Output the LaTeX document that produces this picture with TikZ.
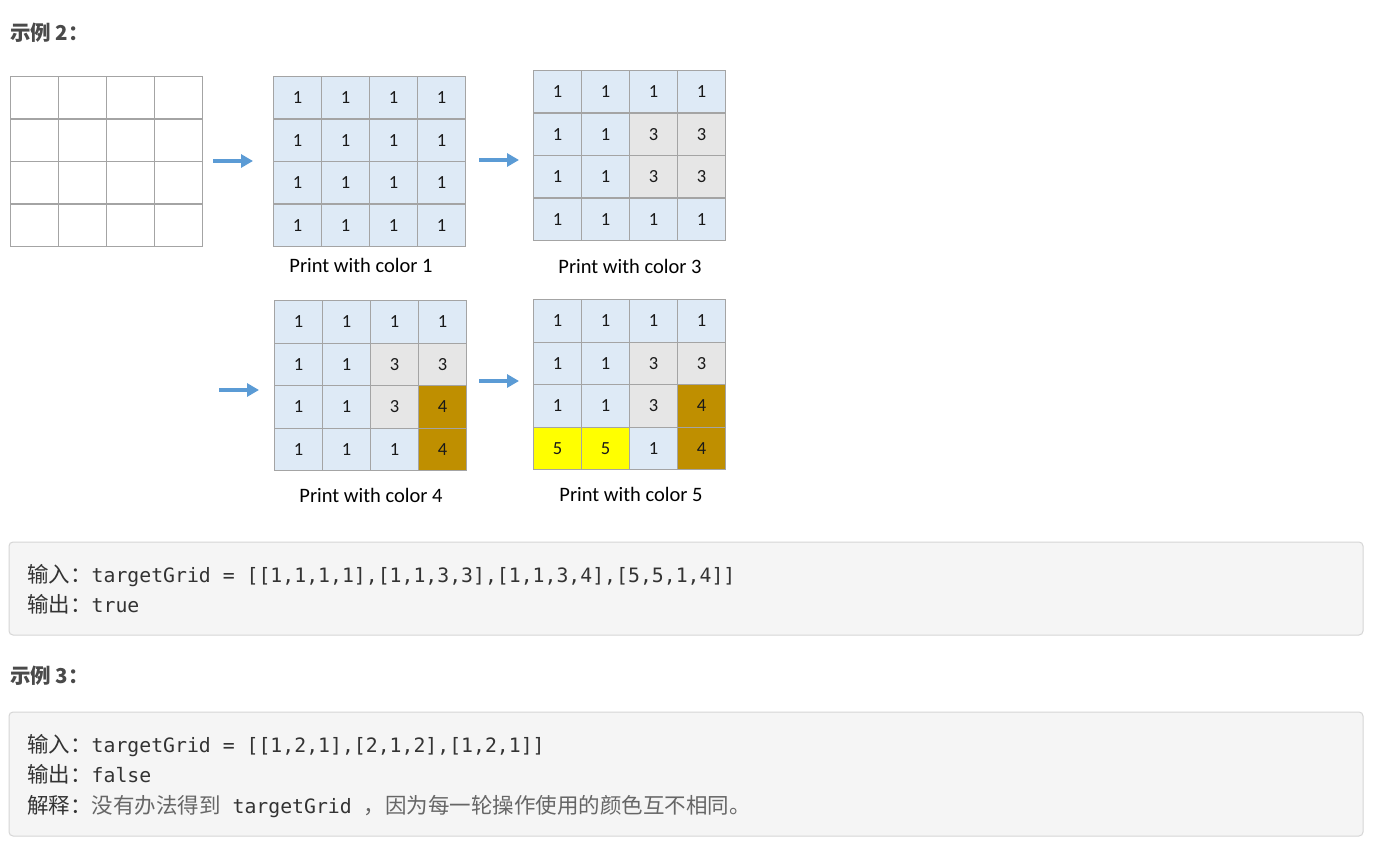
\documentclass[tikz,border=0pt]{standalone}
\usepackage{fontspec}
\usetikzlibrary{arrows.meta}
\setmainfont{Carlito}
\setmonofont{DejaVu Sans Mono}
\newfontfamily\cjk{Noto Sans CJK SC}
\definecolor{cb}{HTML}{DEEAF6}
\definecolor{cg}{HTML}{E6E6E6}
\definecolor{co}{HTML}{BF8F00}
\definecolor{cy}{HTML}{FFFF00}
\definecolor{cw}{HTML}{FFFFFF}
\definecolor{cellline}{HTML}{A4A4A4}
\definecolor{arrowblue}{HTML}{5B9BD5}
\definecolor{boxfill}{HTML}{F5F5F5}
\definecolor{boxline}{HTML}{D6D6D6}
\definecolor{headc}{HTML}{4A4A4A}
\definecolor{codec}{HTML}{333333}
\definecolor{expc}{HTML}{666666}
\newcommand\gridcells[4]{%
  \foreach \cc/\vv [count=\i from 0] in {#4} {%
    \pgfmathtruncatemacro\rr{int(\i/4)}%
    \pgfmathtruncatemacro\kk{mod(\i,4)}%
    \node[cell, fill=\cc] (#1-\rr-\kk) at ({#2+48*\kk},{#3+42.5*\rr}) {\vv};
  }%
}
\newcommand\cjksz{\cjk\fontsize{21.5}{25}\selectfont}
\newcommand\monosz{\ttfamily\fontsize{19.8}{23}\selectfont}
\begin{document}
\begin{tikzpicture}[x=1pt,y=-1pt,
  cell/.style={draw=cellline, line width=1.2pt, minimum width=48pt, minimum height=42.5pt,
    inner sep=0pt, anchor=north west, font=\fontsize{18.5}{22}\selectfont, text=black!90},
  lbl/.style={font=\fontsize{20.5}{24}\selectfont, text=black, inner sep=0pt},
  blarrow/.style={draw=arrowblue, line width=4pt, -{Triangle[length=12pt,width=13pt]}},
  codebox/.style={draw=boxline, fill=boxfill, line width=1pt, rounded corners=4pt},
  head/.style={font=\cjk\bfseries\fontsize{20.5}{24}\selectfont, text=headc, anchor=base west, inner sep=0pt},
  codeline/.style={anchor=base west, inner sep=0pt, text=codec}]
\useasboundingbox (0,0) rectangle (1396,858);
\fill[white] (0,0) rectangle (1396,858);

% headings
\node[head] (h2) at (10,41) {示例 2：};
\node[head] (h3) at (10,683) {示例 3：};

% grid 0 (empty)
\foreach \i in {0,...,15} {
  \pgfmathtruncatemacro\rr{int(\i/4)}
  \pgfmathtruncatemacro\kk{mod(\i,4)}
  \node[cell, fill=cw] (g0-\rr-\kk) at ({10+48*\kk},{76+42.5*\rr}) {};
}

% grid 1
\gridcells{g1}{273}{76}{cb/1,cb/1,cb/1,cb/1, cb/1,cb/1,cb/1,cb/1, cb/1,cb/1,cb/1,cb/1, cb/1,cb/1,cb/1,cb/1}
% grid 2
\gridcells{g2}{533}{70}{cb/1,cb/1,cb/1,cb/1, cb/1,cb/1,cg/3,cg/3, cb/1,cb/1,cg/3,cg/3, cb/1,cb/1,cb/1,cb/1}
% grid 3
\gridcells{g3}{274}{300}{cb/1,cb/1,cb/1,cb/1, cb/1,cb/1,cg/3,cg/3, cb/1,cb/1,cg/3,co/4, cb/1,cb/1,cb/1,co/4}
% grid 4
\gridcells{g4}{533}{299}{cb/1,cb/1,cb/1,cb/1, cb/1,cb/1,cg/3,cg/3, cb/1,cb/1,cg/3,co/4, cy/5,cy/5,cb/1,co/4}

% labels
\node[lbl] (l1) at (361,265) {Print with color 1};
\node[lbl] (l2) at (630,266) {Print with color 3};
\node[lbl] (l3) at (371,495) {Print with color 4};
\node[lbl] (l4) at (631,494) {Print with color 5};

% arrows
\coordinate (a1s) at (213,161); \coordinate (a1e) at (253,161);
\coordinate (a2s) at (479,160); \coordinate (a2e) at (519,160);
\coordinate (a3s) at (219,390); \coordinate (a3e) at (259,390);
\coordinate (a4s) at (479,381); \coordinate (a4e) at (519,381);
\draw[blarrow] (a1s) -- (a1e);
\draw[blarrow] (a2s) -- (a2e);
\draw[blarrow] (a3s) -- (a3e);
\draw[blarrow] (a4s) -- (a4e);

% code boxes
\draw[codebox] (9,542) rectangle (1363,635);
\draw[codebox] (9,712) rectangle (1363,836);

\node[codeline] (c1) at (27,582) {{\cjksz 输入：}{\monosz targetGrid = [[1,1,1,1],[1,1,3,3],[1,1,3,4],[5,5,1,4]]}};
\node[codeline] (c2) at (27,612) {{\cjksz 输出：}{\monosz true}};

\node[codeline] (d1) at (27,752) {{\cjksz 输入：}{\monosz targetGrid = [[1,2,1],[2,1,2],[1,2,1]]}};
\node[codeline] (d2) at (27,782) {{\cjksz 输出：}{\monosz false}};
\node[codeline] (d3) at (27,813) {{\cjksz 解释：\textcolor{expc}{没有办法得到}}{\monosz\ targetGrid\ }{\cjksz\textcolor{expc}{，因为每一轮操作使用的颜色互不相同。}}};
\end{tikzpicture}
\end{document}
